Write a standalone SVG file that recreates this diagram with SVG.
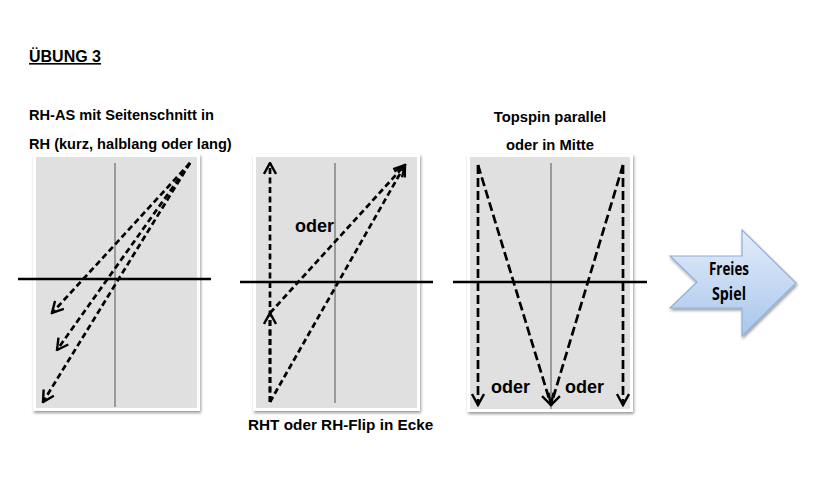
<svg xmlns="http://www.w3.org/2000/svg" width="820" height="500" viewBox="0 0 820 500">
<style>
.t{font-family:"Liberation Sans",Arial,sans-serif;font-weight:bold;fill:#000}
.frame{fill:#fff;filter:url(#sh)}
.court{fill:#e0e0e0}
.mid{stroke:#555;stroke-width:1}
.net{stroke:#000;stroke-width:2.5}
.d{stroke:#000;stroke-width:2.7;fill:none;stroke-dasharray:6 3.5;marker-end:url(#chev)}
.d3{stroke:#000;stroke-width:2.7;fill:none;stroke-dasharray:9 4;marker-end:url(#chev)}
.fs{font-family:"Open Sans","Liberation Sans",sans-serif;font-weight:bold;font-size:17.5px;fill:#000}
</style>
<defs>
<filter id="sh" x="-10%" y="-10%" width="120%" height="120%">
<feGaussianBlur in="SourceAlpha" stdDeviation="1.5"/>
<feOffset dx="1" dy="1.5" result="b"/>
<feComponentTransfer><feFuncA type="linear" slope="0.4"/></feComponentTransfer>
<feMerge><feMergeNode/><feMergeNode in="SourceGraphic"/></feMerge>
</filter>
<marker id="chev" viewBox="0 0 14 14" refX="12.5" refY="7" markerWidth="14" markerHeight="14" markerUnits="userSpaceOnUse" orient="auto">
<path d="M1.5,1 L12.5,7 L1.5,13" fill="none" stroke="#000" stroke-width="2.4"/>
</marker>
<linearGradient id="bg" x1="0" y1="0" x2="0" y2="1">
<stop offset="0" stop-color="#e3edf9"/>
<stop offset="1" stop-color="#a9c6ec"/>
</linearGradient>
</defs>
<rect width="820" height="500" fill="#fff"/>

<g id="title">
<text class="t" x="29" y="62" font-size="16" text-decoration="underline">ÜBUNG 3</text>
</g>

<g id="panel1">
<text class="t" x="29" y="120" font-size="14.6">RH-AS mit Seitenschnitt in</text>
<text class="t" x="29" y="149" font-size="14.6">RH (kurz, halblang oder lang)</text>
<rect class="frame" x="33" y="154" width="167" height="257"/>
<rect class="court" x="36" y="157" width="161" height="251"/>
<line class="mid" x1="115" y1="163" x2="115" y2="407"/>
<line class="net" x1="18" y1="279" x2="211" y2="279"/>
</g>

<g id="panel2">
<rect class="frame" x="253" y="154" width="167" height="257"/>
<rect class="court" x="256" y="157" width="161" height="251"/>
<line class="mid" x1="335" y1="163" x2="335" y2="403"/>
<line class="net" x1="240" y1="282" x2="433" y2="282"/>
<text class="t" x="295" y="232" font-size="18">oder</text>
<text class="t" x="248" y="430" font-size="15.3">RHT oder RH-Flip in Ecke</text>
</g>

<g id="panel3">
<text class="t" x="550" y="122" font-size="14.8" text-anchor="middle">Topspin parallel</text>
<text class="t" x="550" y="150" font-size="14.8" text-anchor="middle">oder in Mitte</text>
<rect class="frame" x="467" y="154" width="166" height="258"/>
<rect class="court" x="470" y="157" width="160" height="252"/>
<line class="mid" x1="551" y1="163" x2="551" y2="409"/>
<line class="net" x1="453" y1="282" x2="647" y2="282"/>
<text class="t" x="491" y="393" font-size="18">oder</text>
<text class="t" x="565" y="393" font-size="18">oder</text>
</g>

<g id="connectors">
<line class="d" x1="190" y1="163" x2="52" y2="313"/>
<line class="d" x1="190" y1="163" x2="57" y2="350"/>
<line class="d" x1="190" y1="163" x2="43" y2="402"/>

<line class="d" x1="270" y1="402" x2="270" y2="163"/>
<line class="d" x1="270" y1="402" x2="270" y2="313"/>
<line class="d" x1="270" y1="402" x2="405" y2="165"/>
<line class="d" x1="270" y1="313" x2="405" y2="165"/>

<line class="d3" x1="478" y1="165" x2="478" y2="405"/>
<line class="d3" x1="623" y1="165" x2="623" y2="405"/>
<line class="d3" x1="478" y1="165" x2="551" y2="405"/>
<line class="d3" x1="623" y1="165" x2="551" y2="405"/>
</g>

<g id="freies-spiel">
<path d="M670,256 L742,256 L742,230 L796,283 L742,336 L742,308 L670,308 L697,282 Z" fill="url(#bg)" stroke="#8fb0d9" stroke-width="1.2" filter="url(#sh)"/>
<text class="fs" x="729" y="275" text-anchor="middle" textLength="40" lengthAdjust="spacingAndGlyphs">Freies</text>
<text class="fs" x="729" y="300" text-anchor="middle" textLength="34" lengthAdjust="spacingAndGlyphs">Spiel</text>
</g>
</svg>
